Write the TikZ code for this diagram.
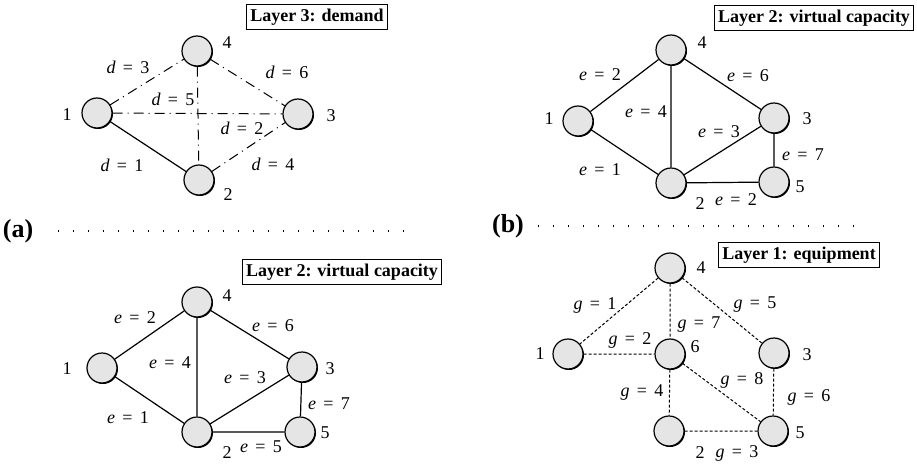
\documentclass[tikz,border=0pt]{standalone}
\usepackage{fontspec}
\setmainfont{Liberation Serif}
\usetikzlibrary{shadows}

\newcommand{\wt}[2]{\textit{#1}\hspace{.4em}=\hspace{.4em}#2}

\tikzset{
  site/.style={circle,draw,line width=.6pt,fill=gray!20,minimum size=15pt,inner sep=0pt,
    drop shadow={shadow xshift=.5pt,shadow yshift=-.5pt,fill=black,opacity=1}},
  num/.style={font=\fontsize{9}{11}\selectfont,inner sep=0pt},
  lbl/.style={font=\fontsize{9}{11}\selectfont,inner sep=0pt},
  layer/.style={draw,line width=.5pt,font=\fontsize{9}{11}\selectfont\bfseries,inner sep=2pt},
  part/.style={font=\fontsize{13}{15}\selectfont\bfseries,inner sep=0pt},
  demand/.style={line width=.5pt,dash pattern=on 5pt off 2.5pt on .5pt off 2.5pt},
  virt/.style={line width=.6pt},
  equip/.style={line width=.5pt,dash pattern=on 1.5pt off 1pt},
  sep/.style={line width=.7pt,dash pattern=on .7pt off 6.8pt}
}

\begin{document}
\begin{tikzpicture}[x=.5pt,y=-.5pt]

\useasboundingbox (0,0) rectangle (917,466);

% (a) top: demand
\node[layer] (boxd) at (317,17) {Layer 3: demand};
\node[site] (d1) at (97,113) {};
\node[site] (d2) at (199,180) {};
\node[site] (d3) at (298,114) {};
\node[site] (d4) at (197,51) {};
\node[num] (nd1) at (67,115) {1};
\node[num] (nd2) at (228,195) {2};
\node[num] (nd3) at (331,116) {3};
\node[num] (nd4) at (227,43) {4};

\draw[virt] (d1)--(d2);
\draw[demand] (d1)--(d4);
\draw[demand] (d4)--(d3);
\draw[demand] (d1)--(d3);
\draw[demand] (d4)--(d2);
\draw[demand] (d2)--(d3);

\node[lbl] (ld3) at (128,67) {\wt{d}{3}};
\node[lbl] (ld6) at (287,72) {\wt{d}{6}};
\node[lbl] (ld5) at (173,99) {\wt{d}{5}};
\node[lbl] (ld2) at (242,128) {\wt{d}{2}};
\node[lbl] (ld1) at (122,165) {\wt{d}{1}};
\node[lbl] (ld4) at (273,164) {\wt{d}{4}};

% (b) top: virtual capacity
\node[layer] (boxv) at (814,18) {Layer 2: virtual capacity};
\node[site] (v1) at (578,121) {};
\node[site] (v2) at (671,183) {};
\node[site] (v3) at (774,118) {};
\node[site] (v4) at (671,50) {};
\node[site] (v5) at (774,182) {};
\node[num] (nv1) at (549,119) {1};
\node[num] (nv2) at (700,204) {2};
\node[num] (nv3) at (807,119) {3};
\node[num] (nv4) at (702,43) {4};
\node[num] (nv5) at (800,187) {5};

\draw[virt] (v1)--(v4) (v1)--(v2) (v4)--(v2) (v4)--(v3)
  (v2)--(v3) (v3)--(v5) (v2)--(v5);

\node[lbl] (lv2) at (600,75) {\wt{e}{2}};
\node[lbl] (lv6) at (748,76) {\wt{e}{6}};
\node[lbl] (lv4) at (646,112) {\wt{e}{4}};
\node[lbl] (lv3) at (719,132) {\wt{e}{3}};
\node[lbl] (lv7) at (803,155) {\wt{e}{7}};
\node[lbl] (lv1) at (600,170) {\wt{e}{1}};
\node[lbl] (lv5) at (736,200) {\wt{e}{2}};

% separators
\node[part] (pa) at (18,231) {(a)};
\draw[sep] (58,231)--(405,231);
\node[part] (pb) at (508,226) {(b)};
\draw[sep] (538,226)--(860,226);

% (a) bottom: virtual capacity
\node[layer] (boxw) at (342,272) {Layer 2: virtual capacity};
\node[site] (w1) at (102,368) {};
\node[site] (w2) at (197,432) {};
\node[site] (w3) at (302,367) {};
\node[site] (w4) at (197,302) {};
\node[site] (w5) at (300,432) {};
\node[num] (nw1) at (67,369) {1};
\node[num] (nw2) at (227,453) {2};
\node[num] (nw3) at (330,369) {3};
\node[num] (nw4) at (227,296) {4};
\node[num] (nw5) at (325,433) {5};

\draw[virt] (w1)--(w4) (w1)--(w2) (w4)--(w2) (w4)--(w3)
  (w2)--(w3) (w3)--(w5) (w2)--(w5);

\node[lbl] (lw2) at (135,318) {\wt{e}{2}};
\node[lbl] (lw6) at (273,326) {\wt{e}{6}};
\node[lbl] (lw4) at (170,363) {\wt{e}{4}};
\node[lbl] (lw3) at (245,378) {\wt{e}{3}};
\node[lbl] (lw7) at (329,404) {\wt{e}{7}};
\node[lbl] (lw1) at (128,418) {\wt{e}{1}};
\node[lbl] (lw5) at (261,447) {\wt{e}{5}};

% (b) bottom: equipment
\node[layer] (boxg) at (799,255) {Layer 1: equipment};
\node[site] (g1) at (568,354) {};
\node[site] (g2) at (669,431) {};
\node[site] (g3) at (774,353) {};
\node[site] (g4) at (670,268) {};
\node[site] (g5) at (773,431) {};
\node[site] (g6) at (670,354) {};
\node[num] (ng1) at (540,354) {1};
\node[num] (ng2) at (700,453) {2};
\node[num] (ng3) at (807,355) {3};
\node[num] (ng4) at (701,268) {4};
\node[num] (ng5) at (800,433) {5};
\node[num] (ng6) at (695,347) {6};

\draw[equip] (g4)--(g1) (g4)--(g6) (g4)--(g3) (g1)--(g6)
  (g6)--(g2) (g6)--(g5) (g3)--(g5) (g2)--(g5);

\node[lbl] (lg1) at (595,305) {\wt{g}{1}};
\node[lbl] (lg5) at (755,305) {\wt{g}{5}};
\node[lbl] (lg7) at (699,325) {\wt{g}{7}};
\node[lbl] (lg2) at (630,340) {\wt{g}{2}};
\node[lbl] (lg8) at (742,380) {\wt{g}{8}};
\node[lbl] (lg4) at (642,392) {\wt{g}{4}};
\node[lbl] (lg6) at (809,397) {\wt{g}{6}};
\node[lbl] (lg3) at (737,453) {\wt{g}{3}};

\end{tikzpicture}
\end{document}
